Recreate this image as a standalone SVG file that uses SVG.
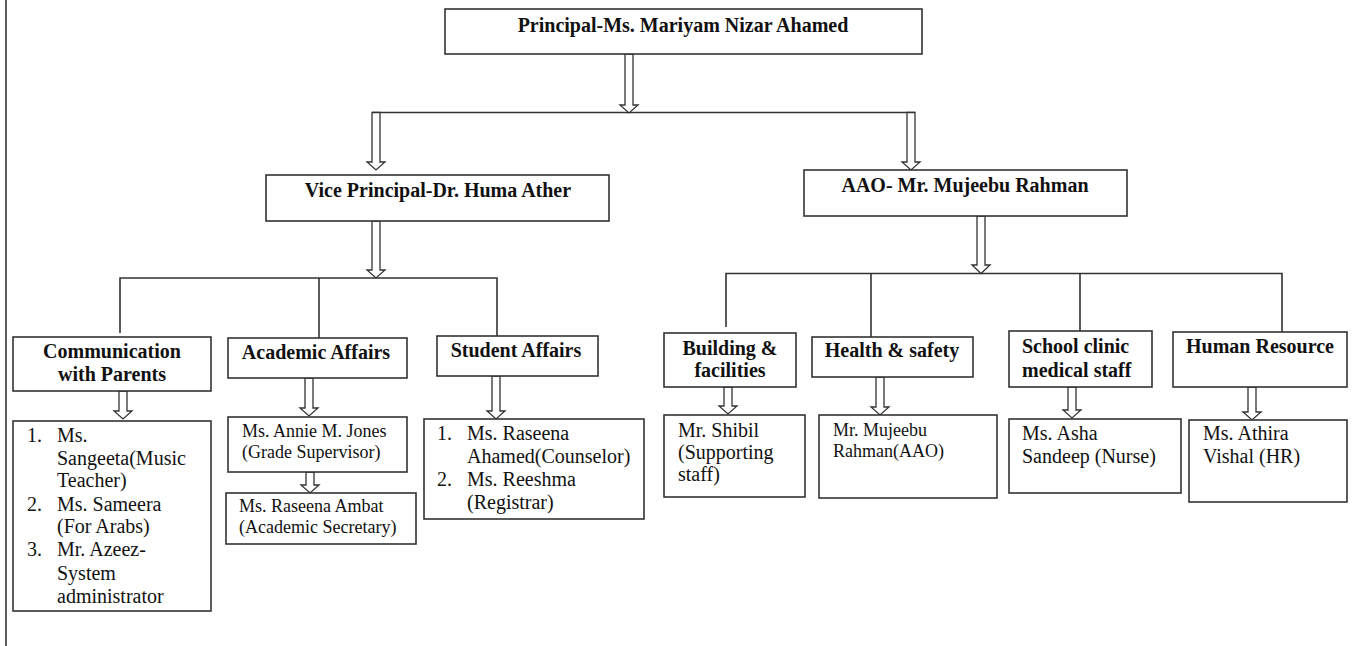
<svg xmlns="http://www.w3.org/2000/svg" width="1361" height="646" viewBox="0 0 1361 646">
<style>
.box{fill:#fff;stroke:#333;stroke-width:1.6}
.ln{fill:none;stroke:#333;stroke-width:1.6}
.arr{fill:#fff;stroke:#333;stroke-width:1.3;stroke-linejoin:miter}
.h{font-family:"Liberation Serif","Times New Roman",serif;font-weight:bold;font-size:20px;fill:#111}
.t{font-family:"Liberation Serif","Times New Roman",serif;font-size:20px;fill:#111}
.s{font-family:"Liberation Serif","Times New Roman",serif;font-size:18px;fill:#111}
.c{text-anchor:middle}
</style>
<rect width="1361" height="646" fill="#fff"/>
<line x1="6" y1="0" x2="6" y2="646" class="ln"/>
<g id="connectors">
<polyline class="ln" points="372,112.5 915,112.5"/>
<polyline class="ln" points="120,333 120,278 497,278 497,336"/>
<line class="ln" x1="319" y1="278" x2="319" y2="338"/>
<polyline class="ln" points="726,327 726,273.5 1282,273.5 1282,332"/>
<line class="ln" x1="871" y1="273.5" x2="871" y2="337"/>
<line class="ln" x1="1080" y1="273.5" x2="1080" y2="331"/>
<path class="arr" d="M625,54 H633 V105 H638 L629,113 L620,105 H625 Z"/>
<path class="arr" d="M372,112.5 H380 V162 H385 L376,170 L367,162 H372 Z"/>
<path class="arr" d="M907,112.5 H915 V162 H920 L911,170 L902,162 H907 Z"/>
<path class="arr" d="M372,221 H380 V270 H385 L376,278 L367,270 H372 Z"/>
<path class="arr" d="M977,216 H985 V265 H990 L981,273.5 L972,265 H977 Z"/>
<path class="arr" d="M119,391 H127 V411 H132 L123,419 L114,411 H119 Z"/>
<path class="arr" d="M305,378 H313 V408 H318 L309,416 L300,408 H305 Z"/>
<path class="arr" d="M306,472 H314 V485 H319 L310,493 L301,485 H306 Z"/>
<path class="arr" d="M492,376 H500 V411 H505 L496,419 L487,411 H492 Z"/>
<path class="arr" d="M724,387 H732 V406 H737 L728,414 L719,406 H724 Z"/>
<path class="arr" d="M876,377 H884 V407 H889 L880,415 L871,407 H876 Z"/>
<path class="arr" d="M1068,387 H1076 V410 H1081 L1072,418 L1063,410 H1068 Z"/>
<path class="arr" d="M1248,387 H1256 V412 H1261 L1252,420 L1243,412 H1248 Z"/>
</g>
<g id="principal">
<rect class="box" x="445" y="9" width="477" height="45"/>
<text class="h c" x="683" y="32">Principal-Ms. Mariyam Nizar Ahamed</text>
</g>
<g id="vice-principal">
<rect class="box" x="266" y="175" width="343" height="46"/>
<text class="h c" x="438" y="197">Vice Principal-Dr. Huma Ather</text>
</g>
<g id="aao">
<rect class="box" x="804" y="170" width="323" height="46"/>
<text class="h c" x="965" y="192">AAO- Mr. Mujeebu Rahman</text>
</g>
<g id="communication">
<rect class="box" x="13" y="337" width="198" height="54"/>
<text class="h c" x="112" y="358">Communication</text>
<text class="h c" x="112" y="381">with Parents</text>
</g>
<g id="communication-staff">
<rect class="box" x="13" y="421" width="198" height="190"/>
<text class="t" x="27" y="442">1.</text>
<text class="t" x="57" y="442">Ms.</text>
<text class="t" x="57" y="465">Sangeeta(Music</text>
<text class="t" x="57" y="487">Teacher)</text>
<text class="t" x="27" y="511">2.</text>
<text class="t" x="57" y="511">Ms. Sameera</text>
<text class="t" x="57" y="533">(For Arabs)</text>
<text class="t" x="27" y="556">3.</text>
<text class="t" x="57" y="556">Mr. Azeez-</text>
<text class="t" x="57" y="580">System</text>
<text class="t" x="57" y="603">administrator</text>
</g>
<g id="academic">
<rect class="box" x="228" y="338" width="179" height="40"/>
<text class="h c" x="316" y="359">Academic Affairs</text>
</g>
<g id="annie">
<rect class="box" x="228" y="417" width="179" height="55"/>
<text class="s" x="242" y="437">Ms. Annie M. Jones</text>
<text class="s" x="242" y="458">(Grade Supervisor)</text>
</g>
<g id="raseena-ambat">
<rect class="box" x="226" y="493" width="190" height="51"/>
<text class="s" x="239" y="512">Ms. Raseena Ambat</text>
<text class="s" x="239" y="533">(Academic Secretary)</text>
</g>
<g id="student">
<rect class="box" x="437" y="336" width="161" height="40"/>
<text class="h c" x="516" y="357">Student Affairs</text>
</g>
<g id="student-staff">
<rect class="box" x="424" y="419" width="220" height="100"/>
<text class="t" x="437" y="440">1.</text>
<text class="t" x="467" y="440">Ms. Raseena</text>
<text class="t" x="467" y="463">Ahamed(Counselor)</text>
<text class="t" x="437" y="486">2.</text>
<text class="t" x="467" y="486">Ms. Reeshma</text>
<text class="t" x="467" y="509">(Registrar)</text>
</g>
<g id="building">
<rect class="box" x="664" y="333" width="132" height="54"/>
<text class="h c" x="730" y="355">Building &amp;</text>
<text class="h c" x="730" y="377">facilities</text>
</g>
<g id="shibil">
<rect class="box" x="664" y="415" width="141" height="82"/>
<text class="t" x="678" y="437">Mr. Shibil</text>
<text class="t" x="678" y="459">(Supporting</text>
<text class="t" x="678" y="481">staff)</text>
</g>
<g id="health">
<rect class="box" x="812" y="337" width="161" height="40"/>
<text class="h c" x="892" y="357">Health &amp; safety</text>
</g>
<g id="mujeebu">
<rect class="box" x="819" y="415" width="178" height="83"/>
<text class="s" x="833" y="436">Mr. Mujeebu</text>
<text class="s" x="833" y="457">Rahman(AAO)</text>
</g>
<g id="clinic">
<rect class="box" x="1009" y="331" width="143" height="56"/>
<text class="h" x="1022" y="353">School clinic</text>
<text class="h" x="1022" y="377">medical staff</text>
</g>
<g id="asha">
<rect class="box" x="1009" y="419" width="172" height="74"/>
<text class="t" x="1022" y="440">Ms. Asha</text>
<text class="t" x="1022" y="463">Sandeep (Nurse)</text>
</g>
<g id="hr">
<rect class="box" x="1173" y="332" width="174" height="55"/>
<text class="h c" x="1260" y="353">Human Resource</text>
</g>
<g id="athira">
<rect class="box" x="1189" y="420" width="158" height="82"/>
<text class="t" x="1203" y="440">Ms. Athira</text>
<text class="t" x="1203" y="463">Vishal (HR)</text>
</g>
</svg>
